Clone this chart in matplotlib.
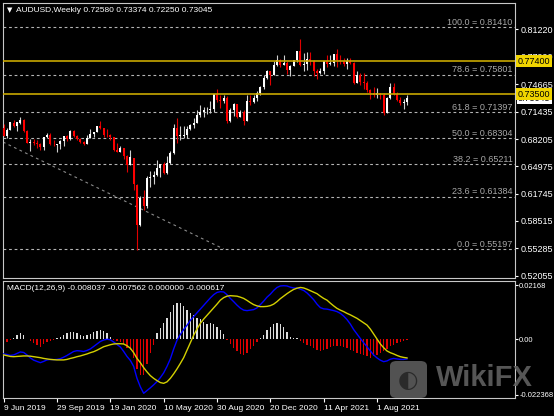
import numpy as np
import matplotlib
matplotlib.use("Agg")
import matplotlib.pyplot as plt
import matplotlib.transforms as mtransforms
from matplotlib.patches import FancyBboxPatch

# weekly AUDUSD bars, 9 Jun 2019 .. 3 Oct 2021
opens = [0.6950, 0.6862, 0.6930, 0.7010, 0.6974, 0.7015, 0.7043, 0.6910, 0.6775, 0.6780,
         0.6775, 0.6762, 0.6731, 0.6839, 0.6870, 0.6760, 0.6755, 0.6757, 0.6800, 0.6855,
         0.6820, 0.6910, 0.6855, 0.6825, 0.6790, 0.6763, 0.6835, 0.6880, 0.6905, 0.6970,
         0.6945, 0.6866, 0.6865, 0.6840, 0.6688, 0.6670, 0.6715, 0.6620, 0.6510, 0.6600,
         0.6280, 0.5805, 0.6125, 0.6033, 0.6365, 0.6370, 0.6390, 0.6475, 0.6530, 0.6420,
         0.6540, 0.6660, 0.6955, 0.6860, 0.6860, 0.6870, 0.6940, 0.6990, 0.7010, 0.7100,
         0.7145, 0.7160, 0.7165, 0.7172, 0.7350, 0.7280, 0.7270, 0.7300, 0.7030, 0.7163,
         0.7229, 0.7083, 0.7145, 0.7030, 0.7274, 0.7260, 0.7300, 0.7370, 0.7432, 0.7540,
         0.7620, 0.7580, 0.7700, 0.7760, 0.7700, 0.7720, 0.7640, 0.7690, 0.7750, 0.7860,
         0.7700, 0.7710, 0.7770, 0.7740, 0.7620, 0.7600, 0.7620, 0.7740, 0.7710, 0.7720,
         0.7830, 0.7760, 0.7740, 0.7710, 0.7740, 0.7720, 0.7480, 0.7580, 0.7500, 0.7480,
         0.7400, 0.7370, 0.7340, 0.7360, 0.7340, 0.7130, 0.7300, 0.7430, 0.7350, 0.7280,
         0.7245, 0.7258]
highs = [0.7000, 0.6946, 0.7023, 0.7048, 0.7025, 0.7082, 0.7052, 0.6925, 0.6822, 0.6818,
         0.6810, 0.6777, 0.6840, 0.6895, 0.6895, 0.6810, 0.6767, 0.6808, 0.6860, 0.6863,
         0.6929, 0.6930, 0.6870, 0.6836, 0.6797, 0.6865, 0.6940, 0.6905, 0.6975, 0.7032,
         0.6952, 0.6938, 0.6880, 0.6845, 0.6774, 0.6733, 0.6719, 0.6628, 0.6685, 0.6600,
         0.6290, 0.6150, 0.6213, 0.6386, 0.6445, 0.6445, 0.6570, 0.6530, 0.6545, 0.6617,
         0.6683, 0.7000, 0.7064, 0.6976, 0.6975, 0.6978, 0.6997, 0.7064, 0.7165, 0.7227,
         0.7194, 0.7197, 0.7276, 0.7352, 0.7413, 0.7345, 0.7345, 0.7327, 0.7187, 0.7243,
         0.7230, 0.7158, 0.7158, 0.7340, 0.7340, 0.7340, 0.7390, 0.7452, 0.7580, 0.7640,
         0.7630, 0.7742, 0.7820, 0.7770, 0.7819, 0.7739, 0.7700, 0.7760, 0.7860, 0.8007,
         0.7837, 0.7849, 0.7848, 0.7750, 0.7652, 0.7665, 0.7745, 0.7817, 0.7817, 0.7830,
         0.7890, 0.7813, 0.7776, 0.7775, 0.7775, 0.7729, 0.7620, 0.7600, 0.7600, 0.7510,
         0.7415, 0.7430, 0.7427, 0.7360, 0.7360, 0.7320, 0.7478, 0.7478, 0.7380, 0.7318,
         0.7290, 0.7337]
lows = [0.6862, 0.6832, 0.6922, 0.6964, 0.6911, 0.6997, 0.6908, 0.6771, 0.6677, 0.6745,
        0.6715, 0.6688, 0.6687, 0.6830, 0.6752, 0.6739, 0.6671, 0.6707, 0.6741, 0.6793,
        0.6808, 0.6841, 0.6808, 0.6769, 0.6754, 0.6757, 0.6835, 0.6842, 0.6898, 0.6939,
        0.6850, 0.6850, 0.6810, 0.6682, 0.6662, 0.6662, 0.6585, 0.6434, 0.6510, 0.6214,
        0.5506, 0.5786, 0.5980, 0.6000, 0.6253, 0.6286, 0.6380, 0.6372, 0.6402, 0.6402,
        0.6520, 0.6648, 0.6777, 0.6804, 0.6833, 0.6832, 0.6922, 0.6948, 0.7010, 0.7078,
        0.7076, 0.7111, 0.7133, 0.7136, 0.7260, 0.7191, 0.7250, 0.7006, 0.7020, 0.7093,
        0.7066, 0.7080, 0.6991, 0.7030, 0.7220, 0.7250, 0.7270, 0.7339, 0.7410, 0.7530,
        0.7462, 0.7580, 0.7690, 0.7675, 0.7692, 0.7592, 0.7564, 0.7680, 0.7733, 0.7680,
        0.7622, 0.7640, 0.7700, 0.7563, 0.7531, 0.7586, 0.7586, 0.7670, 0.7700, 0.7690,
        0.7675, 0.7710, 0.7690, 0.7648, 0.7705, 0.7477, 0.7480, 0.7460, 0.7410, 0.7380,
        0.7290, 0.7315, 0.7300, 0.7290, 0.7106, 0.7130, 0.7290, 0.7340, 0.7270, 0.7225,
        0.7170, 0.7225]
closes = [0.6862, 0.6930, 0.7019, 0.6974, 0.7017, 0.7043, 0.6912, 0.6775, 0.6780, 0.6773,
          0.6762, 0.6731, 0.6839, 0.6872, 0.6758, 0.6758, 0.6757, 0.6801, 0.6855, 0.6818,
          0.6910, 0.6854, 0.6825, 0.6790, 0.6763, 0.6835, 0.6880, 0.6905, 0.6970, 0.6945,
          0.6866, 0.6863, 0.6840, 0.6688, 0.6670, 0.6715, 0.6620, 0.6512, 0.6605, 0.6283,
          0.5805, 0.6125, 0.6033, 0.6364, 0.6369, 0.6392, 0.6475, 0.6530, 0.6420, 0.6540,
          0.6660, 0.6955, 0.6862, 0.6860, 0.6870, 0.6942, 0.6990, 0.7010, 0.7100, 0.7145,
          0.7160, 0.7165, 0.7172, 0.7350, 0.7280, 0.7270, 0.7300, 0.7030, 0.7163, 0.7229,
          0.7083, 0.7145, 0.7030, 0.7274, 0.7260, 0.7300, 0.7370, 0.7432, 0.7540, 0.7620,
          0.7580, 0.7700, 0.7760, 0.7700, 0.7720, 0.7640, 0.7690, 0.7750, 0.7860, 0.7700,
          0.7710, 0.7770, 0.7740, 0.7620, 0.7600, 0.7620, 0.7740, 0.7710, 0.7720, 0.7830,
          0.7760, 0.7740, 0.7710, 0.7740, 0.7720, 0.7480, 0.7580, 0.7500, 0.7480, 0.7400,
          0.7370, 0.7340, 0.7360, 0.7340, 0.7130, 0.7300, 0.7430, 0.7350, 0.7280, 0.7245,
          0.7258, 0.7305]

# MACD(12,26,9) pane
macd_main = [-0.0060, -0.0062, -0.0066, -0.0064, -0.0058, -0.0052, -0.0054, -0.0064, -0.0076, -0.0085,
             -0.0090, -0.0095, -0.0090, -0.0084, -0.0082, -0.0083, -0.0082, -0.0079, -0.0073, -0.0066,
             -0.0058, -0.0050, -0.0047, -0.0048, -0.0050, -0.0046, -0.0040, -0.0030, -0.0020, -0.0010,
             -0.0004, -0.0001, -0.0003, -0.0012, -0.0022, -0.0032, -0.0050, -0.0070, -0.0086, -0.0110,
             -0.0158, -0.0192, -0.0218, -0.0207, -0.0196, -0.0184, -0.0171, -0.0155, -0.0136, -0.0110,
             -0.0080, -0.0040, -0.0005, 0.0018, 0.0038, 0.0055, 0.0075, 0.0090, 0.0105, 0.0120,
             0.0135, 0.0150, 0.0165, 0.0178, 0.0187, 0.0190, 0.0189, 0.0178, 0.0163, 0.0150,
             0.0136, 0.0124, 0.0116, 0.0114, 0.0116, 0.0118, 0.0125, 0.0138, 0.0152, 0.0168,
             0.0180, 0.0195, 0.0207, 0.0213, 0.0214, 0.0213, 0.0208, 0.0205, 0.0205, 0.0200,
             0.0195, 0.0185, 0.0172, 0.0158, 0.0140, 0.0126, 0.0121, 0.0120, 0.0117, 0.0114,
             0.0110, 0.0103, 0.0092, 0.0078, 0.0060, 0.0038, 0.0020, 0.0002, -0.0015, -0.0031,
             -0.0048, -0.0064, -0.0076, -0.0085, -0.0091, -0.0088, -0.0081, -0.0078, -0.0080, -0.0082,
             -0.0082, -0.0080]
macd_signal = [-0.0064, -0.0067, -0.0070, -0.0071, -0.0070, -0.0069, -0.0068, -0.0068, -0.0069, -0.0071,
               -0.0073, -0.0075, -0.0078, -0.0080, -0.0082, -0.0083, -0.0084, -0.0084, -0.0084, -0.0082,
               -0.0078, -0.0075, -0.0071, -0.0068, -0.0064, -0.0060, -0.0055, -0.0051, -0.0045, -0.0038,
               -0.0031, -0.0027, -0.0023, -0.0020, -0.0019, -0.0019, -0.0020, -0.0027, -0.0037, -0.0055,
               -0.0078, -0.0095, -0.0115, -0.0132, -0.0147, -0.0158, -0.0167, -0.0175, -0.0178, -0.0172,
               -0.0158, -0.0140, -0.0120, -0.0098, -0.0075, -0.0045, -0.0015, 0.0015, 0.0040, 0.0063,
               0.0080, 0.0095, 0.0110, 0.0125, 0.0140, 0.0156, 0.0166, 0.0172, 0.0174, 0.0173,
               0.0172, 0.0168, 0.0163, 0.0155, 0.0146, 0.0138, 0.0133, 0.0130, 0.0130, 0.0131,
               0.0134, 0.0140, 0.0150, 0.0162, 0.0172, 0.0182, 0.0191, 0.0199, 0.0204, 0.0207,
               0.0205, 0.0200, 0.0194, 0.0188, 0.0182, 0.0172, 0.0163, 0.0156, 0.0144, 0.0133,
               0.0123, 0.0116, 0.0110, 0.0103, 0.0097, 0.0090, 0.0083, 0.0074, 0.0065, 0.0056,
               0.0040, 0.0020, 0.0000, -0.0020, -0.0035, -0.0048, -0.0055, -0.0060, -0.0066, -0.0071,
               -0.0074, -0.0076]
macd_hist = [-0.0017, -0.0013, -0.0005, 0.0005, 0.0015, 0.0023, 0.0015, 0.0002, -0.0010, -0.0018,
             -0.0025, -0.0031, -0.0022, -0.0012, -0.0008, -0.0005, 0.0003, 0.0008, 0.0016, 0.0023,
             0.0027, 0.0029, 0.0025, 0.0018, 0.0012, 0.0016, 0.0020, 0.0028, 0.0034, 0.0036,
             0.0032, 0.0025, 0.0010, -0.0004, -0.0008, -0.0012, -0.0020, -0.0035, -0.0045, -0.0075,
             -0.0120, -0.0145, -0.0145, -0.0100, -0.0058, -0.0024, 0.0023, 0.0043, 0.0063, 0.0083,
             0.0110, 0.0137, 0.0146, 0.0143, 0.0133, 0.0117, 0.0103, 0.0095, 0.0085, 0.0080,
             0.0070, 0.0060, 0.0065, 0.0060, 0.0050, 0.0035, 0.0020, -0.0005, -0.0020, -0.0035,
             -0.0050, -0.0060, -0.0064, -0.0055, -0.0042, -0.0030, -0.0012, 0.0005, 0.0018, 0.0035,
             0.0050, 0.0060, 0.0066, 0.0062, 0.0048, 0.0030, 0.0008, 0.0003, 0.0003, -0.0008,
             -0.0016, -0.0024, -0.0030, -0.0037, -0.0045, -0.0048, -0.0045, -0.0040, -0.0033, -0.0030,
             -0.0030, -0.0030, -0.0033, -0.0037, -0.0043, -0.0050, -0.0055, -0.0060, -0.0065, -0.0068,
             -0.0075, -0.0070, -0.0065, -0.0055, -0.0048, -0.0040, -0.0030, -0.0025, -0.0018, -0.0012,
             -0.0008, -0.0006]

date_labels = ["9 Jun 2019", "29 Sep 2019", "19 Jan 2020", "10 May 2020",
               "30 Aug 2020", "20 Dec 2020", "11 Apr 2021", "1 Aug 2021"]
date_ticks = [0, 16, 32, 48, 64, 80, 96, 112]

price_ticks = [0.81220, 0.77990, 0.74665, 0.71435, 0.68205, 0.64975, 0.61745, 0.58515, 0.55285, 0.52055]
macd_ticks = [0.02168, 0.0, -0.022368]
macd_tick_labels = ["0.02168", "0.00", "-0.022368"]

fib_pct = [100.0, 78.6, 61.8, 50.0, 38.2, 23.6, 0.0]
fib_price = [0.81410, 0.75801, 0.71397, 0.68304, 0.65211, 0.61384, 0.55197]
fib_trend_x = [-0.2, 66]
fib_trend_y = [0.6785, 0.55197]

levels = [0.77400, 0.73500]
last_price = 0.73045

W, H = 554, 416
plt.rcParams["font.family"] = ["Liberation Sans", "DejaVu Sans"]
FS = 6.5
FS_SMALL = 6.0
fig = plt.figure(figsize=(W / 100, H / 100), dpi=100, facecolor="black")


def frac(x0, y0, x1, y1):
    return [x0 / W, 1 - y1 / H, (x1 - x0) / W, (y1 - y0) / H]


ax = fig.add_axes(frac(3, 3, 515, 278))
axm = fig.add_axes(frac(3, 281, 515, 398), sharex=ax)

for a in (ax, axm):
    a.set_facecolor("black")
    for s in a.spines.values():
        s.set_color("#c8c8c8")
        s.set_linewidth(0.8)
    a.yaxis.tick_right()
    a.tick_params(axis="y", colors="white", labelsize=FS, length=2.2, width=0.8, pad=1.5)
axm.tick_params(axis="y", labelsize=5.5, pad=0.8)

x = np.arange(len(closes))
o = np.array(opens); c = np.array(closes)
h = np.array(highs); l = np.array(lows)
up = c >= o
body_lo = np.minimum(o, c)
body_h = np.maximum(np.abs(c - o), 0.0006)

ax.vlines(x[up], l[up], h[up], color="#d0d0d0", lw=0.8, zorder=3)
ax.vlines(x[~up], l[~up], h[~up], color="#e00000", lw=0.8, zorder=3)
ax.bar(x[up], body_h[up], bottom=body_lo[up], width=0.62, color="white", zorder=4)
ax.bar(x[~up], body_h[~up], bottom=body_lo[~up], width=0.62, color="#ff0000", zorder=4)

# fibonacci retracement
tr = mtransforms.blended_transform_factory(ax.transAxes, ax.transData)
for p, v in zip(fib_pct, fib_price):
    ax.axhline(v, color="#b4b4b4", lw=0.8, ls=(0, (2.5, 2.5)), zorder=1)
    ax.text(0.995, v + 0.0004, f"{p:.1f} = {v:.5f}", transform=tr,
            ha="right", va="bottom", color="#a8a8a8", fontsize=FS, zorder=2)
ax.plot(fib_trend_x, fib_trend_y, color="#8a8a8a", lw=0.8, ls=(0, (2.5, 3)), zorder=1)

for v in levels:
    ax.axhline(v, color="#c8a800", lw=1.2, zorder=5)

ax.set_xlim(-0.2, 153.4)
ax.set_ylim(0.51764, 0.84296)
ax.set_yticks(price_ticks)
ax.set_yticklabels([f"{v:.5f}" for v in price_ticks])
ax.tick_params(axis="x", bottom=False, labelbottom=False)

ax.text(1.006, last_price - 0.0005, f"{last_price:.5f}", transform=tr, ha="left", va="center", fontsize=FS,
        color="black", bbox=dict(boxstyle="square,pad=0.12", fc="white", ec="none"), zorder=6, clip_on=False)
for v in levels:
    ax.text(1.006, v, f"{v:.5f}", transform=tr, ha="left", va="center", fontsize=FS,
            color="black", bbox=dict(boxstyle="square,pad=0.18", fc="#f0d400", ec="none"), zorder=7, clip_on=False)

# MACD pane
hist = np.array(macd_hist)
axm.bar(x, hist, width=0.32, color=np.where(hist >= 0, "#dcdcdc", "#e00000"), zorder=2)
axm.plot(x, macd_main, color="#0000ff", lw=1.0, zorder=3)
axm.plot(x, macd_signal, color="#d4d000", lw=1.0, zorder=3)
axm.set_ylim(-0.02369, 0.02329)
axm.set_yticks(macd_ticks)
axm.set_yticklabels(macd_tick_labels)
axm.set_xticks(date_ticks)
axm.set_xticklabels(date_labels, ha="left")
axm.tick_params(axis="x", colors="white", labelsize=FS_SMALL, length=3, width=0.8, pad=2)

fig.text(7 / W, 1 - 10 / H, "\u25bc", color="white", fontsize=5, va="center", family="DejaVu Sans")
fig.text(16 / W, 1 - 10 / H, "AUDUSD,Weekly 0.72580 0.73374 0.72250 0.73045", color="white",
         fontsize=FS_SMALL, va="center")
fig.text(7 / W, 1 - 288 / H, "MACD(12,26,9) -0.008037 -0.007562 0.000000 -0.000617", color="white",
         fontsize=FS_SMALL, va="center")

# watermark
logo = FancyBboxPatch((390 / W, 1 - 398 / H), 37 / W, 37 / H, boxstyle="round,pad=0,rounding_size=0.012",
                      transform=fig.transFigure, fc="#5c5c5c", ec="none", alpha=0.9, zorder=10)
fig.patches.append(logo)
fig.text(408.5 / W, 1 - 380 / H, "\u25d0", color="#2a2a2a", fontsize=17, ha="center", va="center",
         zorder=11, family="DejaVu Sans")
fig.text(436 / W, 1 - 378 / H, "WikiFX", color="#606060", fontsize=21, fontweight="bold",
         ha="left", va="center", alpha=0.9, zorder=11)

fig.savefig("out.png", dpi=100, facecolor="black")
